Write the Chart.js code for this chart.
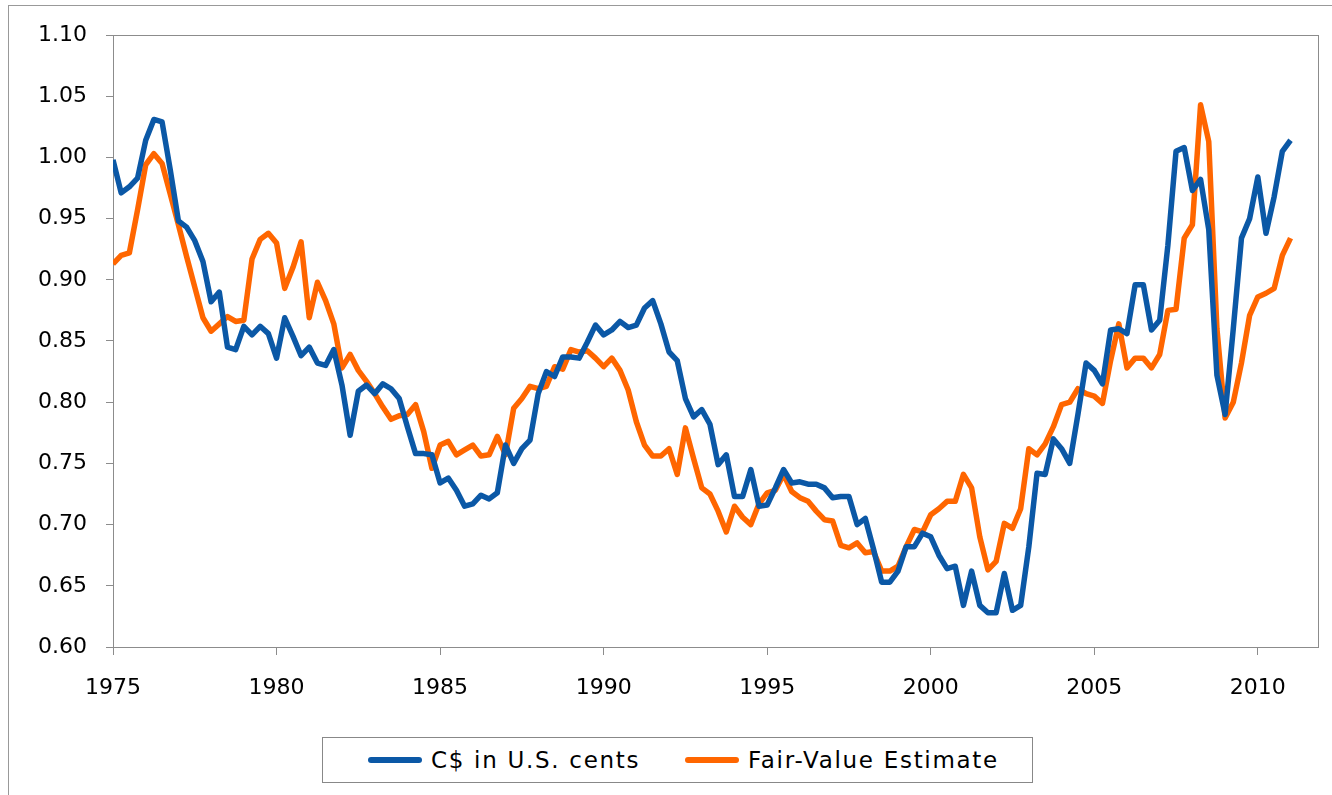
<!DOCTYPE html>
<html>
<head>
<meta charset="utf-8">
<script src="https://cdn.jsdelivr.net/npm/chart.js@4.4.1/dist/chart.umd.min.js"></script>
<style>
  html, body { margin: 0; padding: 0; background: #fff; }
  #wrap { position: relative; width: 1332px; height: 795px; overflow: hidden; }
  #frame { position: absolute; left: 8px; top: 5px; width: 1400px; height: 900px;
           border-left: 1px solid #999; border-top: 1px solid #999; }
  #myChart { position: absolute; left: 0; top: 0; }
  #legend { position: absolute; left: 322px; top: 737px; width: 709px; height: 44px;
            border: 1px solid #888; background: #fff;
            font-family: "DejaVu Sans", Verdana, sans-serif; font-size: 23px;
            letter-spacing: 1.7px; color: #000; }
  .item { position: absolute; top: 9px; white-space: nowrap; }
  .swatch { display: inline-block; width: 54px; height: 6px; border-radius: 3px;
            vertical-align: middle; margin-right: 9px; position: relative; top: -2px; }
</style>
</head>
<body>
<div id="wrap">
  <div id="frame"></div>
  <canvas id="myChart" width="1332" height="795"></canvas>
  <div id="legend">
    <span class="item" style="left:45px"><span class="swatch" style="background:#0b58a6"></span>C$ in U.S. cents</span>
    <span class="item" style="left:362px"><span class="swatch" style="background:#ff6600"></span>Fair-Value Estimate</span>
  </div>
</div>
<script>
// quarterly observations, 1975Q1 .. 2011Q1
const quarters = [];
for (let y = 1975; y <= 2011; y++) {
    for (let q = 0; q < 4; q++) {
        if (quarters.length < 145) quarters.push(y + q / 4);
    }
}

const xTicks = [1975, 1980, 1985, 1990, 1995, 2000, 2005, 2010];

const cadUsd = [
    0.998, 0.971, 0.976, 0.983, 1.014, 1.031, 1.029, 0.990, 0.948, 0.943,
    0.932, 0.915, 0.882, 0.890, 0.845, 0.843, 0.862, 0.855, 0.862, 0.856,
    0.836, 0.869, 0.854, 0.838, 0.845, 0.832, 0.830, 0.843, 0.814, 0.773,
    0.809, 0.814, 0.807, 0.815, 0.811, 0.803, 0.780, 0.758, 0.758, 0.757,
    0.734, 0.738, 0.728, 0.715, 0.717, 0.724, 0.721, 0.726, 0.765, 0.750,
    0.762, 0.769, 0.807, 0.825, 0.821, 0.837, 0.837, 0.836, 0.849, 0.863,
    0.855, 0.859, 0.866, 0.861, 0.863, 0.877, 0.883, 0.864, 0.841, 0.834,
    0.803, 0.788, 0.794, 0.782, 0.749, 0.757, 0.723, 0.723, 0.745, 0.715,
    0.716, 0.730, 0.745, 0.734, 0.735, 0.733, 0.733, 0.730, 0.722, 0.723,
    0.723, 0.700, 0.705, 0.680, 0.653, 0.653, 0.662, 0.682, 0.682, 0.693,
    0.690, 0.675, 0.664, 0.666, 0.634, 0.662, 0.634, 0.628, 0.628, 0.660,
    0.630, 0.634, 0.682, 0.742, 0.741, 0.770, 0.762, 0.750, 0.790, 0.832,
    0.826, 0.815, 0.859, 0.860, 0.856, 0.896, 0.896, 0.859, 0.867, 0.928,
    1.005, 1.008, 0.973, 0.982, 0.941, 0.822, 0.790, 0.860, 0.934, 0.950,
    0.984, 0.938, 0.968, 1.005, 1.014
];

const fairValue = [
    0.913, 0.920, 0.922, 0.957, 0.994, 1.003, 0.995, 0.970, 0.945, 0.919,
    0.894, 0.869, 0.858, 0.864, 0.870, 0.866, 0.867, 0.917, 0.933, 0.938,
    0.930, 0.893, 0.910, 0.931, 0.869, 0.898, 0.883, 0.864, 0.828, 0.839,
    0.826, 0.817, 0.807, 0.796, 0.786, 0.789, 0.790, 0.798, 0.776, 0.746,
    0.765, 0.768, 0.757, 0.761, 0.765, 0.756, 0.757, 0.772, 0.757, 0.795,
    0.803, 0.813, 0.811, 0.813, 0.829, 0.827, 0.843, 0.841, 0.842, 0.836,
    0.829, 0.836, 0.826, 0.810, 0.784, 0.765, 0.756, 0.756, 0.762, 0.741,
    0.779, 0.754, 0.730, 0.725, 0.711, 0.694, 0.715, 0.706, 0.700, 0.717,
    0.726, 0.728, 0.741, 0.727, 0.722, 0.719, 0.711, 0.704, 0.703, 0.683,
    0.681, 0.685, 0.677, 0.678, 0.662, 0.662, 0.666, 0.682, 0.696, 0.694,
    0.708, 0.713, 0.719, 0.719, 0.741, 0.730, 0.690, 0.663, 0.670, 0.701,
    0.697, 0.713, 0.762, 0.757, 0.766, 0.780, 0.798, 0.800, 0.811, 0.807,
    0.805, 0.799, 0.834, 0.864, 0.828, 0.836, 0.836, 0.828, 0.839, 0.875,
    0.876, 0.934, 0.945, 1.043, 1.013, 0.860, 0.787, 0.800, 0.832, 0.871,
    0.886, 0.889, 0.893, 0.920, 0.934
];

function toPoints(arr) {
    return arr.map(function (v, i) { return { x: quarters[i], y: v }; });
}

// box round the plot area
const plotBox = {
    id: 'plotBox',
    beforeDatasetsDraw: function (chart) {
        const a = chart.chartArea;
        const c = chart.ctx;
        c.save();
        c.strokeStyle = '#8c8c8c';
        c.lineWidth = 1;
        c.strokeRect(a.left + 0.5, a.top + 0.5, a.right - a.left, a.bottom - a.top);
        c.restore();
    }
};

const tickFont = { family: '"DejaVu Sans", Verdana, sans-serif', size: 22 };

var ctx = document.getElementById('myChart').getContext('2d');
var chart = new Chart(ctx, {
    type: 'line',
    data: {
        datasets: [{
            label: 'C$ in U.S. cents',
            data: toPoints(cadUsd),
            borderColor: '#0b58a6',
            backgroundColor: '#0b58a6',
            borderWidth: 5.5,
            pointRadius: 0,
            tension: 0,
            borderJoinStyle: 'round'
        }, {
            label: 'Fair-Value Estimate',
            data: toPoints(fairValue),
            borderColor: '#ff6600',
            backgroundColor: '#ff6600',
            borderWidth: 5.5,
            pointRadius: 0,
            tension: 0,
            borderJoinStyle: 'round'
        }]
    },
    options: {
        responsive: false,
        animation: false,
        devicePixelRatio: 1,
        layout: { padding: { left: 0, right: 14, top: 35, bottom: 88 } },
        plugins: { legend: { display: false }, tooltip: { enabled: false } },
        scales: {
            x: {
                type: 'linear',
                min: 1975,
                max: 2011.84,
                afterBuildTicks: function (scale) {
                    scale.ticks = xTicks.map(function (v) { return { value: v }; });
                },
                afterFit: function (scale) { scale.height = 60; },
                grid: { drawOnChartArea: false, drawTicks: true, tickLength: 8, color: '#8c8c8c' },
                border: { color: '#8c8c8c' },
                ticks: { font: tickFont, color: '#000', padding: 20, maxRotation: 0,
                         callback: function (v) { return String(v); } }
            },
            y: {
                min: 0.6,
                max: 1.1,
                afterFit: function (scale) { scale.width = 113; },
                grid: { drawOnChartArea: false, drawTicks: true, tickLength: 7, color: '#8c8c8c' },
                border: { color: '#8c8c8c' },
                ticks: { stepSize: 0.05, font: tickFont, color: '#000', padding: 19,
                         callback: function (v) { return v.toFixed(2); } }
            }
        }
    },
    plugins: [plotBox]
});
</script>
</body>
</html>
